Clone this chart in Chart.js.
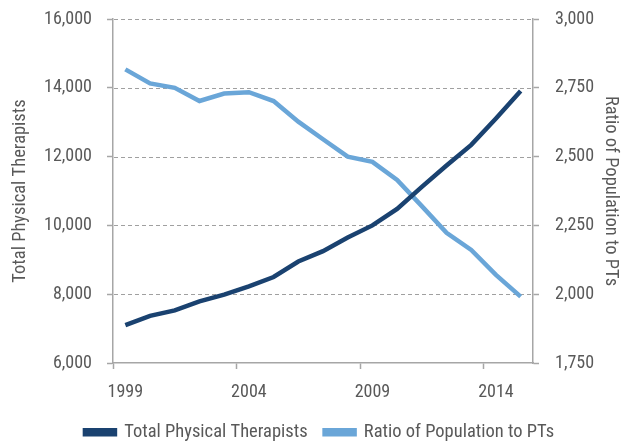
<!DOCTYPE html>
<html><head><meta charset="utf-8">
<script src="https://cdn.jsdelivr.net/npm/chart.js@4"></script>
<style>html,body{margin:0;padding:0;background:#fff}#wrap{width:625px;height:444px;position:relative}</style>
</head><body><div id="wrap"><canvas id="c"></canvas></div>
<script>
const years = ['1999','2000','2001','2002','2003','2004','2005','2006','2007','2008','2009','2010','2011','2012','2013','2014','2015'];
const totalPTs = [7100,7370,7530,7790,7990,8230,8500,8950,9250,9650,10000,10480,11120,11740,12340,13110,13910];
const ratioPopPT = [2817,2766,2750,2702,2729,2734,2702,2627,2563,2500,2481,2415,2320,2223,2161,2070,1991];
const leftTicks = [6000,8000,10000,12000,14000,16000];
const rightTicks = [1750,2000,2250,2500,2750,3000];
const FONT = "'Roboto Condensed','DejaVu Sans Condensed',sans-serif";
const TXT = '#595959', AX = '#a6a6a6', GRID = '#a0a0a0';
Chart.defaults.font.family = FONT;
Chart.defaults.color = TXT;

// dashed horizontal gridlines, placed through the left y scale
const dashedGrid = {
  id: 'dashedGrid',
  beforeDatasetsDraw(chart) {
    const { ctx, chartArea } = chart;
    const ys = chart.scales.y;
    ctx.save();
    ctx.strokeStyle = GRID;
    ctx.lineWidth = 1;
    ctx.setLineDash([4, 3]);
    ys.ticks.forEach(t => {
      if (t.value === ys.min) return;
      const py = Math.round(ys.getPixelForValue(t.value)) + 0.5;
      ctx.beginPath();
      ctx.moveTo(chartArea.left + 1, py);
      ctx.lineTo(chartArea.right, py);
      ctx.stroke();
    });
    ctx.restore();
  }
};

new Chart(document.getElementById('c'), {
  type: 'line',
  data: { labels: years, datasets: [
    { label: 'Total Physical Therapists', data: totalPTs, yAxisID: 'y', borderColor: '#1a4270', backgroundColor: '#1a4270', borderWidth: 4.5, pointRadius: 0, tension: 0, fill: false },
    { label: 'Ratio of Population to PTs', data: ratioPopPT, yAxisID: 'y1', borderColor: '#6aa6d8', backgroundColor: '#6aa6d8', borderWidth: 4.5, pointRadius: 0, tension: 0, fill: false }
  ]},
  plugins: [dashedGrid],
  options: {
    responsive: true, maintainAspectRatio: false, animation: false,
    layout: { padding: { top: 19, right: 0, left: 14, bottom: -7.5 } },
    plugins: {
      legend: { position: 'bottom', labels: { boxWidth: 30, boxHeight: 4, font: { size: 18.5 }, color: TXT, padding: 17 } },
      tooltip: { enabled: false }
    },
    scales: {
      x: {
        offset: true,
        afterFit: (s) => { s.height = 43; },
        grid: { offset: true, drawOnChartArea: false, tickLength: 6, tickWidth: 1.5, color: AX,
          tickColor: (ctx) => (ctx.index % 5 === 0 ? AX : 'rgba(0,0,0,0)') },
        border: { color: AX, width: 1.5 },
        ticks: { autoSkip: false, maxRotation: 0, font: { size: 18 }, color: TXT, padding: 13,
          callback: function(v, i) { return i % 5 === 0 ? this.getLabelForValue(v) : ''; } }
      },
      y: {
        position: 'left', min: 6000, max: 16000,
        afterBuildTicks: (s) => { s.ticks = leftTicks.map(v => ({ value: v })); },
        afterFit: (s) => { s.width = 99; s.paddingTop = 0; s.paddingBottom = 0; },
        grid: { drawOnChartArea: false, color: AX, tickLength: 6, tickWidth: 1.5, tickColor: AX },
        border: { color: AX, width: 1.5 },
        ticks: { font: { size: 18 }, color: TXT, padding: 15, callback: (v) => v.toLocaleString('en-US') },
        title: { display: true, text: 'Total Physical Therapists', font: { size: 18.5 }, color: TXT, padding: { top: -5, bottom: 0 } }
      },
      y1: {
        position: 'right', min: 1750, max: 3000,
        afterBuildTicks: (s) => { s.ticks = rightTicks.map(v => ({ value: v })); },
        afterFit: (s) => { s.width = 92; s.paddingTop = 0; s.paddingBottom = 0; },
        grid: { drawOnChartArea: false, color: AX, tickColor: AX, tickLength: 6, tickWidth: 1.5 },
        border: { color: AX, width: 1.5 },
        ticks: { font: { size: 18 }, color: TXT, padding: 16, callback: (v) => v.toLocaleString('en-US') },
        title: { display: true, text: 'Ratio of Population to PTs', font: { size: 18.5 }, color: TXT, padding: { top: 3, bottom: 0 } }
      }
    }
  }
});
</script></body></html>
